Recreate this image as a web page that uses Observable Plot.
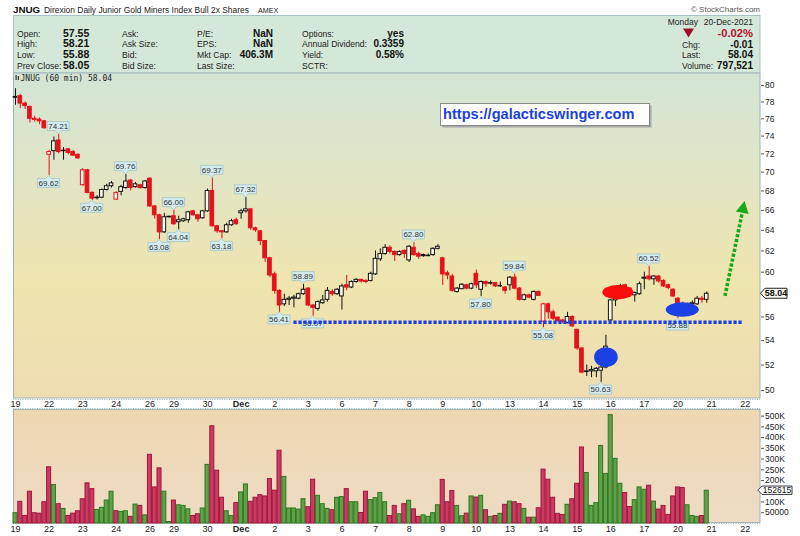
<!DOCTYPE html>
<html>
<head>
<meta charset="utf-8">
<script src="https://cdn.jsdelivr.net/npm/d3@7"></script>
<script src="https://cdn.jsdelivr.net/npm/@observablehq/plot@0.6"></script>
<style>
html,body{margin:0;padding:0;background:#fff;}
#wrap{position:relative;width:800px;height:536px;overflow:hidden;background:#fff;}
#wrap svg{position:absolute;left:0;}
</style>
</head>
<body>
<div id="wrap"></div>
<script>
// ---------------- DATA ----------------
const dayLabels = ["19","22","23","24","26","29","30","Dec","2","3","6","7","8","9","10","13","14","15","16","17","20","21","22"];
const daySlots  = [7,7,7,7,5,7,7,7,7,7,7,7,7,7,7,7,7,7,7,7,7,7,7];

const opens = [78.5,78.7,77.8,77.4,76.0,75.9,75.7,71.9,72.3,73.5,72.3,72.5,72.2,71.9,
68.6,70.2,67.8,67.25,67.3,68.1,68.5,67.1,67.9,68.3,69.1,68.4,68.6,68.3,
69.3,66.4,65.5,63.8,65.3,65.4,64.8,64.9,65.0,65.9,65.5,65.2,65.9,68.0,64.4,63.9,63.8,64.5,65.0,
65.7,65.9,66.1,64.2,63.9,62.95,61.3,59.8,58.3,57.1,57.5,57.6,57.6,58.0,
58.5,57.0,56.7,57.2,57.5,58.2,58.0,57.8,58.8,58.6,59.1,59.3,59.2,59.2,
59.8,61.2,61.7,62.3,61.9,61.6,62.0,61.1,62.3,61.7,61.6,61.5,61.6,62.2,
61.3,59.9,59.6,58.2,58.45,58.8,58.5,59.85,58.4,59.1,58.95,59.0,58.7,58.6,
58.8,59.5,58.5,57.5,57.9,57.5,58.2,55.6,57.1,56.4,55.95,55.7,55.5,56.0,
54.9,53.35,51.45,51.5,51.5,51.55,51.8,55.7,57.45,58.2,58.8,58.5,57.9,58.0,
59.4,59.6,59.35,59.6,59.2,58.8,58.4,57.6,57.0,56.9,57.1,57.1,57.6,57.5];

const highs = [79.6,78.9,78.0,77.5,76.3,76.1,75.8,72.4,73.9,74.21,72.7,72.6,72.4,72.0,
70.4,70.3,67.9,67.5,68.2,68.7,69.0,67.9,68.6,69.76,69.2,68.9,68.7,69.1,
69.4,66.5,65.6,65.7,65.4,66.0,65.4,65.2,65.9,66.0,65.6,66.0,68.2,69.37,64.5,64.0,64.7,65.1,65.2,
66.1,67.32,66.2,64.3,64.0,63.0,61.4,60.0,58.4,58.0,57.8,57.9,58.1,58.89,
58.6,57.1,57.4,57.9,58.6,58.4,58.5,58.9,59.7,59.2,59.4,59.35,59.3,60.0,
62.0,62.2,62.6,62.5,62.0,62.0,62.1,62.5,62.8,61.9,61.7,61.7,62.3,62.6,
61.4,60.1,59.8,58.6,58.95,58.9,59.0,60.2,59.2,59.2,59.2,59.05,59.1,58.7,
59.6,59.84,58.6,58.0,58.0,58.3,58.3,57.2,57.2,56.6,56.0,55.8,56.4,56.1,
54.95,53.4,52.0,51.9,51.8,51.9,54.45,57.5,58.4,58.9,58.9,58.6,58.2,59.1,
60.0,60.52,59.7,59.7,59.3,58.9,58.5,57.7,57.3,57.2,57.4,57.8,57.8,58.21];

const lows = [77.6,77.2,77.1,75.5,75.6,75.3,74.8,69.62,71.3,72.0,71.3,71.9,71.7,71.4,
68.5,67.7,67.0,67.05,67.2,68.0,68.3,67.0,67.5,68.2,68.0,68.3,68.2,68.2,
66.3,65.1,63.08,63.7,65.2,64.5,64.04,64.8,64.7,65.4,64.8,65.1,65.8,64.3,63.7,63.18,63.7,64.4,64.5,
65.1,65.7,64.0,63.8,62.5,60.9,59.5,58.0,56.41,56.9,57.0,56.8,57.5,57.9,
56.9,56.07,56.5,57.1,57.3,57.8,57.9,56.6,58.3,58.5,59.0,59.0,58.95,59.1,
59.7,61.0,61.6,61.7,61.0,61.5,61.3,60.9,61.5,61.2,61.4,61.45,61.5,62.1,
58.8,59.3,58.2,58.1,58.4,58.4,58.4,58.5,57.8,58.6,58.8,58.6,58.6,58.0,
58.3,58.4,57.4,57.4,57.6,57.4,57.8,55.08,55.8,55.7,55.5,55.4,55.4,55.1,
53.2,51.3,51.1,51.0,51.0,50.63,51.7,55.6,56.9,58.1,58.3,57.9,57.3,57.9,
58.4,59.2,58.8,59.0,58.6,58.4,57.7,55.88,56.6,56.7,56.9,57.0,57.2,57.2];

const closes = [78.6,77.8,77.5,76.0,75.85,75.7,74.9,72.2,73.4,72.2,72.35,72.1,71.8,71.5,
70.2,67.8,67.2,67.3,68.1,68.5,68.8,67.8,68.4,69.0,68.3,68.7,68.3,69.0,
66.4,65.5,63.8,65.3,65.35,64.6,65.0,65.1,65.8,65.5,65.1,65.9,68.0,64.4,63.9,63.8,64.5,64.9,64.6,
65.9,66.1,64.2,64.0,62.95,61.3,59.7,58.3,57.0,57.5,57.6,57.7,58.0,58.4,
57.0,56.8,57.3,57.45,58.3,58.0,58.4,58.7,58.6,59.1,59.3,59.15,59.1,59.85,
61.25,61.7,62.3,61.9,61.6,61.9,61.7,62.4,61.6,61.45,61.5,61.55,62.2,62.4,
59.8,59.7,58.3,58.5,58.85,58.5,58.9,58.8,59.1,58.9,59.0,58.7,58.75,58.3,
59.5,58.5,57.5,57.9,57.7,58.2,57.85,57.1,56.4,55.85,55.65,55.6,56.0,55.2,
53.35,51.4,51.5,51.6,51.7,51.8,53.5,57.45,58.2,58.7,58.5,58.0,58.1,58.9,
59.5,59.35,59.6,59.15,58.7,58.55,57.8,56.9,56.8,57.1,57.2,57.6,57.5,58.04];

const volumes = [48000,101000,35000,148000,48000,46000,99000,262000,179000,90000,68000,35000,46000,57000,
113000,187000,160000,63000,73000,107000,148000,57000,54000,57000,31000,88000,82000,38000,
320000,168000,257000,148000,7000,107000,85000,82000,66000,35000,43000,70000,273000,453000,246000,120000,57000,35000,95000,
145000,182000,101000,120000,132000,126000,207000,153000,339000,217000,70000,70000,65000,113000,
76000,204000,129000,90000,68000,62000,120000,123000,160000,99000,99000,49000,148000,109000,
118000,142000,99000,35000,82000,43000,90000,106000,66000,31000,38000,31000,48000,85000,
203000,99000,151000,82000,34000,46000,126000,121000,129000,62000,31000,35000,45000,87000,
102000,99000,90000,68000,27000,27000,71000,251000,204000,120000,45000,40000,87000,113000,
185000,354000,235000,82000,95000,361000,231000,505000,301000,185000,142000,77000,109000,168000,
157000,176000,102000,65000,82000,40000,126000,168000,165000,85000,35000,31000,35000,152615];

// 58 and 150K are hidden behind the last-value tags in the original
const priceTicks = [50,52,54,56,60,62,64,66,68,70,72,74,76,78,80];
const volTicks = [50000,100000,200000,250000,300000,350000,400000,450000,500000];

// labelled swing highs / lows (bar numbers)
const highBars = [9,23,33,41,48,60,83,104,132];
const lowBars  = [7,16,30,34,43,55,62,97,110,122,138];

// hand-drawn annotations (bar number, price)
const supportLevel = 55.5;
const supportSpan = [58, 151.6];
const redOval = [125.6, 58.13];
const blueOvals = [[123.1, 52.6], [139.0, 56.6]];
const arrowFrom = [147.9, 57.8];
const arrowTo = [152.0, 66.9];

// header info
const infoLabels = [["Open:","High:","Low:","Prev Close:"],["Ask:","Ask Size:","Bid:","Bid Size:"],["P/E:","EPS:","Mkt Cap:","Last Size:"],["Options:","Annual Dividend:","Yield:","SCTR:"]];
const infoValues = [["57.55","58.21","55.88","58.05"],[],["NaN","NaN","406.3M",""],["yes","0.3359","0.58%",""]];

// ---------------- BUILD ----------------
const FONT = "'Liberation Sans', Arial, sans-serif";
const wrap = d3.select("#wrap");

const bars = opens.map((o, i) => {
  const c = closes[i], prev = i > 0 ? closes[i - 1] : o;
  const up = c >= prev;
  const col = up ? "#111111" : "#e3121b";
  return {i, o, h: highs[i], l: lows[i], c, v: volumes[i], col,
    fill: c > o ? "#fffbea" : col,
    vfill: up ? "#62a04a" : "#c93c62", vstroke: up ? "#2a7a1e" : "#a4143e"};
});

const dayStart = []; let acc = 0;
daySlots.forEach(n => { dayStart.push(acc); acc += n; });
const labelAt = new Map(dayStart.map((s, k) => [s, dayLabels[k]]));

// background panels
const bg = wrap.append("svg").attr("width", 800).attr("height", 536).style("top", "0px");
const defs = bg.append("defs");
const pg = defs.append("linearGradient").attr("id", "pg").attr("x1", 0).attr("y1", 0).attr("x2", 0).attr("y2", 1);
[[0, "#d3e5d6"], [0.35, "#e3e5c3"], [0.65, "#efe5ae"], [1, "#eedcb2"]].forEach(([o, c]) => pg.append("stop").attr("offset", o).attr("stop-color", c));
const vg = defs.append("linearGradient").attr("id", "vg").attr("x1", 0).attr("y1", 0).attr("x2", 0).attr("y2", 1);
[[0, "#efd7b2"], [1, "#eddcc4"]].forEach(([o, c]) => vg.append("stop").attr("offset", o).attr("stop-color", c));
bg.append("rect").attr("x", 13.5).attr("y", 15.5).attr("width", 746.5).attr("height", 57.5).attr("fill", "#d3e8d8").attr("stroke", "#a9c1c7");
bg.append("rect").attr("x", 13.5).attr("y", 73).attr("width", 746.5).attr("height", 325).attr("fill", "url(#pg)").attr("stroke", "#9fb3bb");
bg.append("rect").attr("x", 13.5).attr("y", 409.5).attr("width", 746.5).attr("height", 113).attr("fill", "url(#vg)").attr("stroke", "#9fb3bb");
[399.5, 408.5, 523.5].forEach(y => bg.append("line").attr("x1", 13).attr("x2", 760).attr("y1", y).attr("y2", y).attr("stroke", "#9fb3bb").attr("stroke-dasharray", "1,1.4"));

const plotStyle = top => ({position: "absolute", top: top + "px", left: "0px", background: "transparent", overflow: "visible", fontFamily: FONT, fontSize: "9px", color: "#222"});

// price panel
const price = Plot.plot({
  width: 800, height: 337, marginTop: 0, marginBottom: 12, marginLeft: 13, marginRight: 40,
  x: {type: "linear", domain: [-0.42, 155.2], label: null},
  y: {type: "log", domain: [49.39, 81.49], label: null},
  color: {type: "identity"},
  style: plotStyle(73),
  marks: [
    Plot.axisX(dayStart, {tickFormat: d => labelAt.get(d), tickSize: 0, tickPadding: 2.5, fontSize: 9, fill: "#222"}),
    Plot.axisY(priceTicks, {anchor: "right", tickSize: 3, tickPadding: 1.5, tickFormat: d => String(d), fontSize: 8.5, fill: "#222", stroke: "#555"}),
    Plot.ruleX(bars, {x: "i", y1: "l", y2: "h", stroke: "col", strokeWidth: 1}),
    Plot.rect(bars, {x1: d => d.i - 0.38, x2: d => d.i + 0.38,
      y1: d => Math.min(d.o, d.c), y2: d => Math.max(d.o, d.c) * (Math.abs(d.o - d.c) < 0.03 ? 1.0008 : 1),
      fill: "fill", stroke: "col", strokeWidth: 1})
  ]
});
wrap.node().appendChild(price);

const sx = v => price.scale("x").apply(v), sy = v => price.scale("y").apply(v);
const ann = d3.select(price).append("g");

// callouts
function callout(bar, value, isHigh) {
  const cx = sx(bar), py = sy(value), w = 22, h = 9, gap = 3.2;
  let d, ty;
  if (isHigh) {
    const bot = py - gap, top = bot - h;
    d = `M${cx - w / 2},${top}H${cx + w / 2}V${bot}H${cx + 3}L${cx},${py - 0.3}L${cx - 3},${bot}H${cx - w / 2}Z`;
    ty = (top + bot) / 2;
  } else {
    const top = py + gap, bot = top + h;
    d = `M${cx - w / 2},${top}H${cx - 3}L${cx},${py + 0.3}L${cx + 3},${top}H${cx + w / 2}V${bot}H${cx - w / 2}Z`;
    ty = (top + bot) / 2;
  }
  ann.append("path").attr("d", d).attr("fill", "#d5ecef").attr("stroke", "#9fc4c9").attr("stroke-width", 0.8);
  ann.append("text").attr("x", cx).attr("y", ty).attr("dy", "0.36em").attr("text-anchor", "middle")
    .attr("font-size", 8).attr("fill", "#333").attr("font-family", FONT).text(value.toFixed(2));
}
highBars.forEach(b => callout(b, highs[b], true));
lowBars.forEach(b => callout(b, lows[b], false));

// support line
ann.append("line").attr("x1", sx(supportSpan[0])).attr("x2", sx(supportSpan[1]))
  .attr("y1", sy(supportLevel)).attr("y2", sy(supportLevel))
  .attr("stroke", "#1e3ce6").attr("stroke-width", 3.6).attr("stroke-dasharray", "3.2,1.8");

// ovals
ann.append("ellipse").attr("cx", sx(redOval[0])).attr("cy", sy(redOval[1])).attr("rx", 15.5).attr("ry", 7.2).attr("fill", "#fb0d0d");
ann.append("ellipse").attr("cx", sx(blueOvals[0][0])).attr("cy", sy(blueOvals[0][1])).attr("rx", 11.8).attr("ry", 10).attr("fill", "#1b40e4");
ann.append("ellipse").attr("cx", sx(blueOvals[1][0])).attr("cy", sy(blueOvals[1][1])).attr("rx", 16.5).attr("ry", 7.3).attr("fill", "#1b40e4");

// green arrow
{
  const x0 = sx(arrowFrom[0]), y0 = sy(arrowFrom[1]), x1 = sx(arrowTo[0]), y1 = sy(arrowTo[1]);
  const len = Math.hypot(x1 - x0, y1 - y0), ux = (x1 - x0) / len, uy = (y1 - y0) / len;
  const hl = 12, hw = 6.5;
  const bx = x1 - ux * hl, by = y1 - uy * hl;
  ann.append("line").attr("x1", x0).attr("y1", y0).attr("x2", bx).attr("y2", by)
    .attr("stroke", "#18a818").attr("stroke-width", 3.6).attr("stroke-dasharray", "3.2,1.8");
  ann.append("path").attr("d", `M${x1},${y1}L${bx - uy * hw},${by + ux * hw}L${bx + uy * hw},${by - ux * hw}Z`).attr("fill", "#18a818");
}

// last price tag
{
  const y = sy(closes[closes.length - 1]), x = 760;
  ann.append("path").attr("d", `M${x + 0.5},${y}L${x + 5},${y - 5}H${x + 27}V${y + 5}H${x + 5}Z`).attr("fill", "#f7f7f2").attr("stroke", "#222").attr("stroke-width", 1);
  ann.append("text").attr("x", x + 16).attr("y", y).attr("dy", "0.36em").attr("text-anchor", "middle").attr("font-size", 9).attr("font-weight", "bold").attr("font-family", FONT).attr("fill", "#111").text(closes[closes.length - 1].toFixed(2));
}

d3.select(price).selectAll("text").filter(function () { return this.textContent === "Dec"; }).attr("font-weight", "bold");

// volume panel
const vol = Plot.plot({
  width: 800, height: 127, marginTop: 0, marginBottom: 13, marginLeft: 13, marginRight: 40,
  x: {type: "linear", domain: [-0.42, 155.2], label: null},
  y: {domain: [0, 531000], label: null},
  color: {type: "identity"},
  style: plotStyle(409),
  marks: [
    Plot.rect(bars, {x1: d => d.i - 0.42, x2: d => d.i + 0.42, y1: 0, y2: "v", fill: "vfill", stroke: "vstroke", strokeWidth: 1}),
    Plot.axisX(dayStart, {tickFormat: d => labelAt.get(d), tickSize: 0, tickPadding: 2, fontSize: 9, fill: "#222"}),
    Plot.axisY(volTicks, {anchor: "right", tickSize: 3, tickPadding: 1.5, tickFormat: d => d < 100000 ? String(d) : (d / 1000) + "K", fontSize: 8.5, fill: "#222", stroke: "#555"})
  ]
});
wrap.node().appendChild(vol);
d3.select(vol).selectAll("text").filter(function () { return this.textContent === "Dec"; }).attr("font-weight", "bold");
{
  const vy = vol.scale("y").apply(volumes[volumes.length - 1]), x = 758;
  const g = d3.select(vol).append("g");
  g.append("path").attr("d", `M${x},${vy}L${x + 4},${vy - 4.2}H${x + 34}V${vy + 4.2}H${x + 4}Z`).attr("fill", "#fff").attr("stroke", "#223").attr("stroke-width", 0.9);
  g.append("text").attr("x", x + 19).attr("y", vy).attr("dy", "0.36em").attr("text-anchor", "middle").attr("font-size", 8.5).attr("font-family", FONT).attr("fill", "#111").text(String(volumes[volumes.length - 1]));
}

// overlay texts
const ov = wrap.append("svg").attr("width", 800).attr("height", 536).style("top", "0px").style("pointer-events", "none");
function txt(x, y, s, o = {}) {
  return ov.append("text").attr("x", x).attr("y", y).attr("font-family", o.family || FONT).attr("font-size", o.size || 9)
    .attr("font-weight", o.weight || "normal").attr("text-anchor", o.anchor || "start").attr("fill", o.fill || "#1a1a1a").text(s);
}
txt(13, 13.3, "JNUG", {size: 9.8, weight: "bold", fill: "#111"});
txt(44, 13.2, "Direxion Daily Junior Gold Miners Index Bull 2x Shares", {size: 8.45, fill: "#222"});
txt(258, 13.2, "AMEX", {size: 7.2, fill: "#222"});
txt(760, 12, "© StockCharts.com", {size: 8, anchor: "end", fill: "#555"});

const rowY = [36.5, 47.2, 57.9, 68.6];
const colX = [17, 122, 197, 302];
const valX = [[63, "start", 10.5], null, [273, "end", 10], [404, "end", 10]];
infoLabels.forEach((col, k) => col.forEach((s, r) => txt(colX[k], rowY[r], s, {size: 8.6, fill: "#222"})));
infoValues.forEach((col, k) => col.forEach((s, r) => { if (s) txt(valX[k][0], rowY[r], s, {size: valX[k][2], weight: "bold", anchor: valX[k][1], fill: "#111"}); }));

txt(698, 24.5, "Monday", {size: 8.5, anchor: "end", fill: "#222"});
txt(753, 24.5, "20-Dec-2021", {size: 8.5, anchor: "end", fill: "#222"});
ov.append("path").attr("d", "M683,28.5H694L688.5,37.5Z").attr("fill", "#a30d2d");
txt(753, 37.2, "-0.02%", {size: 11.2, weight: "bold", anchor: "end", fill: "#b3122e"});
[["Chg:", "-0.01"], ["Last:", "58.04"], ["Volume:", "797,521"]].forEach(([a, b], k) => {
  txt(682, rowY[k + 1] + 0.3, a, {size: 8.6, fill: "#222"});
  txt(753, rowY[k + 1] + 0.3, b, {size: 10, weight: "bold", anchor: "end", fill: "#111"});
});

// series line label
ov.append("rect").attr("x", 15.5).attr("y", 75).attr("width", 1.2).attr("height", 5).attr("fill", "#333");
ov.append("rect").attr("x", 17.8).attr("y", 76).attr("width", 1.2).attr("height", 4).attr("fill", "#333");
txt(20.5, 80.5, "JNUG (60 min) 58.04", {size: 8, family: "'DejaVu Sans Mono', monospace", fill: "#222"});

// url box
ov.append("rect").attr("x", 442.5).attr("y", 105.5).attr("width", 209).attr("height", 22).attr("fill", "#a8a8a8");
ov.append("rect").attr("x", 440.5).attr("y", 103.5).attr("width", 209).attr("height", 22).attr("fill", "#fff").attr("stroke", "#8a8a8a");
txt(443, 118.6, "https://galacticswinger.com", {size: 14.6, weight: "bold", fill: "#1b3fe0"});
</script>
</body>
</html>
